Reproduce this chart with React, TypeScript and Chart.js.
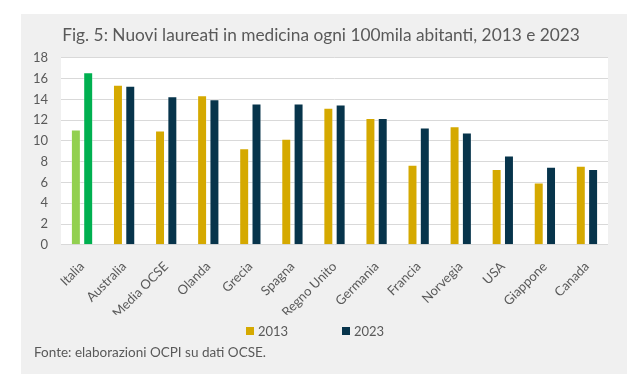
import React, { useEffect, useRef } from 'react';
import { Chart, registerables } from 'chart.js';

Chart.register(...registerables);

const titleText = 'Fig. 5: Nuovi laureati in medicina ogni 100mila abitanti, 2013 e 2023';
const sourceText = 'Fonte: elaborazioni OCPI su dati OCSE.';
const categories = ['Italia', 'Australia', 'Media OCSE', 'Olanda', 'Grecia', 'Spagna', 'Regno Unito', 'Germania', 'Francia', 'Norvegia', 'USA', 'Giappone', 'Canada'];
const seriesLabels = ['2013', '2023'];
const values2013 = [11.1, 15.4, 11.0, 14.4, 9.3, 10.2, 13.2, 12.2, 7.7, 11.4, 7.3, 6.0, 7.6];
const values2023 = [16.6, 15.3, 14.3, 14.0, 13.6, 13.6, 13.5, 12.2, 11.3, 10.8, 8.6, 7.5, 7.3];
const yMin = 0;
const yMax = 18;
const yStep = 2;

const GOLD = '#D5A900';
const NAVY = '#07344B';
const ITALY_2013 = '#92D050';
const ITALY_2023 = '#00B050';
const TEXT = '#595959';
const FONT = 'Lato, "Open Sans", sans-serif';

const colors2013 = categories.map((c) => (c === 'Italia' ? ITALY_2013 : GOLD));
const colors2023 = categories.map((c) => (c === 'Italia' ? ITALY_2023 : NAVY));
const legendColors = [GOLD, NAVY];

const areaBg = {
  id: 'areaBg',
  beforeDraw(chart: any) {
    const { ctx, chartArea } = chart;
    ctx.save();
    ctx.fillStyle = '#FFFFFF';
    ctx.fillRect(chartArea.left, chartArea.top, chartArea.right - chartArea.left, chartArea.bottom - chartArea.top);
    ctx.restore();
  },
};

const customLegend = {
  id: 'customLegend',
  afterDraw(chart: any) {
    const { ctx } = chart;
    ctx.save();
    ctx.font = '13px ' + FONT;
    ctx.textBaseline = 'middle';
    ctx.textAlign = 'left';
    const y = chart.height - 43;
    const pitch = 96;
    let x = chart.width / 2 - 78;
    chart.data.datasets.forEach((ds: any, i: number) => {
      ctx.fillStyle = legendColors[i];
      ctx.fillRect(x, y - 4, 8, 8);
      ctx.fillStyle = TEXT;
      ctx.fillText(ds.label, x + 12, y + 1);
      x += pitch;
    });
    ctx.restore();
  },
};

export default function App() {
  const ref = useRef<HTMLCanvasElement | null>(null);
  useEffect(() => {
    if (!ref.current) return;
    const chart = new Chart(ref.current, {
      type: 'bar',
      data: {
        labels: categories,
        datasets: [
          {
            label: seriesLabels[0],
            data: values2013,
            backgroundColor: colors2013,
            borderColor: 'rgba(255,255,255,0.35)',
            borderWidth: 1,
            categoryPercentage: 0.585,
            barPercentage: 0.81,
          },
          {
            label: seriesLabels[1],
            data: values2023,
            backgroundColor: colors2023,
            borderColor: 'rgba(255,255,255,0.35)',
            borderWidth: 1,
            categoryPercentage: 0.585,
            barPercentage: 0.81,
          },
        ],
      },
      options: {
        responsive: false,
        animation: false,
        devicePixelRatio: 1,
        layout: { padding: { left: 13, right: 19, top: 0, bottom: 0 } },
        plugins: {
          legend: { display: false },
          tooltip: { enabled: false },
          title: {
            display: true,
            text: titleText,
            color: TEXT,
            font: { family: FONT, size: 17.3, weight: 'normal' },
            padding: { top: 11, bottom: 12 },
          },
          subtitle: {
            display: true,
            text: sourceText,
            position: 'bottom',
            align: 'start',
            color: TEXT,
            font: { family: FONT, size: 13.5, weight: 'normal' },
            padding: { top: 30, bottom: 13 },
          },
        },
        scales: {
          x: {
            grid: { display: false },
            border: { display: false },
            ticks: {
              color: TEXT,
              font: { family: FONT, size: 13 },
              minRotation: 45,
              maxRotation: 45,
              padding: 6,
            },
            afterFit: (scale: any) => {
              scale.height = 70;
            },
          },
          y: {
            min: yMin,
            max: yMax,
            grid: { color: '#D9D9D9', lineWidth: 1, drawTicks: false },
            border: { display: false },
            ticks: {
              stepSize: yStep,
              color: TEXT,
              font: { family: FONT, size: 13 },
              padding: 13,
            },
            afterFit: (scale: any) => {
              scale.width = 27;
            },
          },
        },
      },
      plugins: [areaBg, customLegend],
    });
    return () => chart.destroy();
  }, []);

  return (
    <div style={{ position: 'absolute', left: 0, top: 0, width: 642, height: 391, background: '#FFFFFF' }}>
      <div style={{ position: 'absolute', left: 21, top: 14, width: 606, height: 360, background: '#F0F0F0' }}>
        <canvas ref={ref} width={606} height={360} style={{ display: 'block', width: 606, height: 360 }} />
      </div>
    </div>
  );
}
